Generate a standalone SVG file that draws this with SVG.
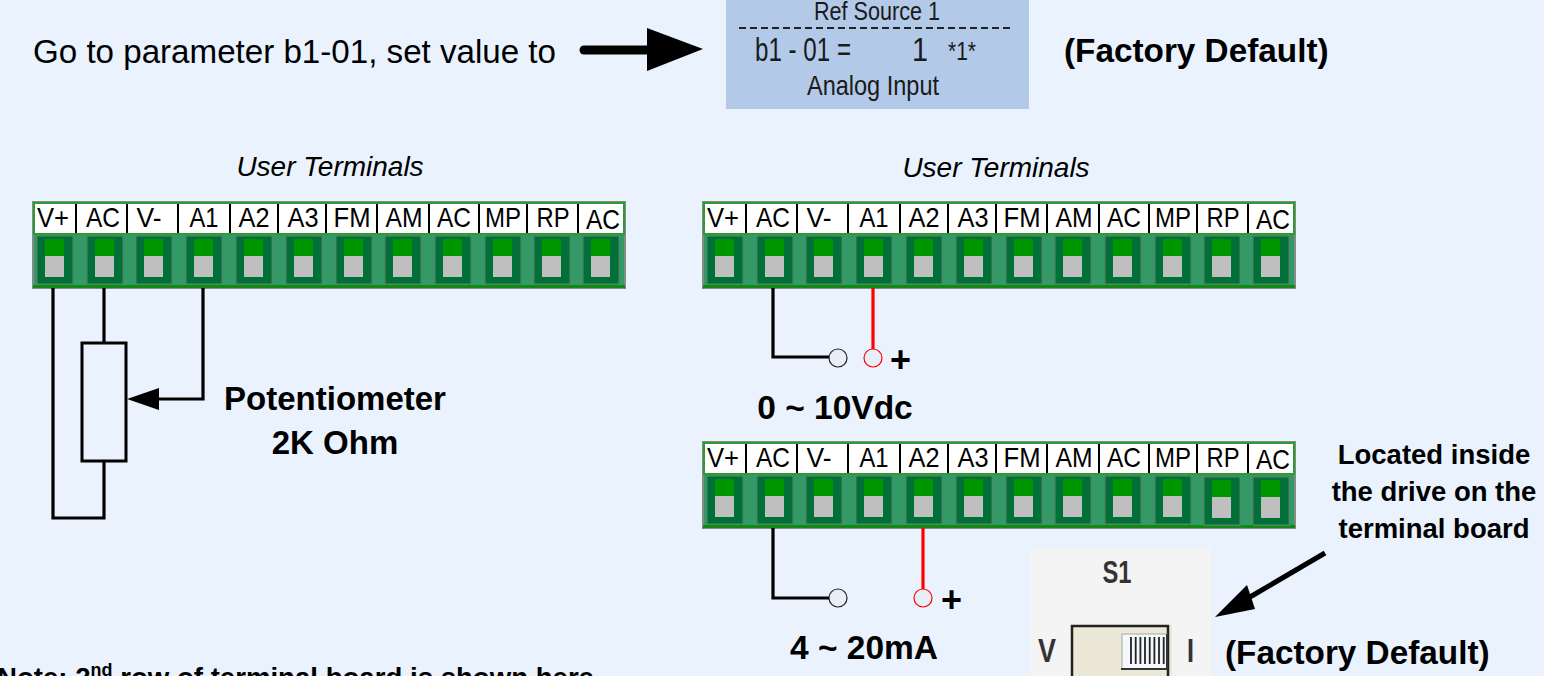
<svg xmlns="http://www.w3.org/2000/svg" width="1544" height="676" viewBox="0 0 1544 676">
<style>
text{font-family:"Liberation Sans",Arial,sans-serif;fill:#000}
.b{font-weight:bold}
.i{font-style:italic;font-size:28px}
.l{font-size:27.5px;text-anchor:middle}
.c{text-anchor:middle}
.w{fill:none;stroke:#000;stroke-width:3.2}
.r{fill:none;stroke:#f00;stroke-width:3.2}
.sep{stroke:#000;stroke-width:2}
.lcd{fill:#1a1a1a;text-anchor:middle}
.sw{font-weight:bold;fill:#333}
</style>
<defs>
<g id="term">
<rect x="0" y="0" width="36" height="48" fill="#007038" stroke="#5f7f6a" stroke-width="1"/>
<rect x="8" y="3" width="19" height="17" fill="#009600"/>
<rect x="8" y="20" width="19" height="21" fill="#bfbfbf"/>
</g>
<g id="board">
<rect x="1" y="1" width="592" height="86" fill="#339966" stroke="#7f8f85" stroke-width="2"/>
<rect x="2" y="2" width="590" height="31" fill="#fff" stroke="#2f9a2f" stroke-width="2"/>
<rect x="1" y="84" width="592" height="3" fill="#128a12"/>
<path class="sep" d="M44 3V32M95 3V32M146 3V32M198 3V32M246 3V32M294 3V32M345 3V32M397 3V32M447 3V32M495 3V32M546 3V32"/>
<text class="l" x="21" y="26" textLength="32" lengthAdjust="spacingAndGlyphs">V+</text><text class="l" x="71" y="26" textLength="34" lengthAdjust="spacingAndGlyphs">AC</text><text class="l" x="117" y="26" textLength="25" lengthAdjust="spacingAndGlyphs">V-</text><text class="l" x="172" y="26" textLength="29" lengthAdjust="spacingAndGlyphs">A1</text><text class="l" x="222" y="26" textLength="31" lengthAdjust="spacingAndGlyphs">A2</text><text class="l" x="271" y="26" textLength="31" lengthAdjust="spacingAndGlyphs">A3</text><text class="l" x="320" y="26" textLength="37" lengthAdjust="spacingAndGlyphs">FM</text><text class="l" x="372" y="26" textLength="37" lengthAdjust="spacingAndGlyphs">AM</text><text class="l" x="422" y="26" textLength="34" lengthAdjust="spacingAndGlyphs">AC</text><text class="l" x="471" y="26" textLength="36" lengthAdjust="spacingAndGlyphs">MP</text><text class="l" x="521" y="26" textLength="33" lengthAdjust="spacingAndGlyphs">RP</text><text class="l" x="571" y="28" textLength="34" lengthAdjust="spacingAndGlyphs">AC</text>
<use href="#term" x="5" y="35"/><use href="#term" x="55" y="35"/><use href="#term" x="104" y="35"/><use href="#term" x="154" y="35"/><use href="#term" x="204" y="35"/><use href="#term" x="254" y="35"/><use href="#term" x="304" y="35"/><use href="#term" x="353" y="35"/><use href="#term" x="403" y="35"/><use href="#term" x="453" y="35"/><use href="#term" x="502" y="35"/><use href="#term" x="551" y="35"/>
</g>
</defs>
<rect width="1544" height="676" fill="#eaf2fe"/>

<g id="instruction">
<text x="33" y="63" font-size="34" textLength="523" lengthAdjust="spacingAndGlyphs">Go to parameter b1-01, set value to</text>
</g>
<g id="lcd">
<rect x="726" y="0" width="303" height="109" fill="#b3c9e8"/>
<path d="M739 28H1012" stroke="#222" stroke-width="2" stroke-dasharray="7 4" fill="none"/>
<text class="lcd" x="877" y="20" font-size="25" textLength="126" lengthAdjust="spacingAndGlyphs">Ref Source 1</text>
<text x="755" y="61" font-size="33" style="fill:#1a1a1a" textLength="96" lengthAdjust="spacingAndGlyphs">b1 - 01 =</text>
<text class="lcd" x="920" y="61" font-size="33" textLength="16" lengthAdjust="spacingAndGlyphs">1</text>
<text class="lcd" x="962" y="60" font-size="25" textLength="28" lengthAdjust="spacingAndGlyphs">*1*</text>
<text class="lcd" x="873" y="95" font-size="28" textLength="132" lengthAdjust="spacingAndGlyphs">Analog Input</text>
</g>
<g id="factory-default-1"><text class="b" x="1064" y="62" font-size="33.3">(Factory Default)</text></g>

<g id="board-left">
<text class="i c" x="330" y="176">User Terminals</text>
<use href="#board" x="32" y="201"/>
</g>
<g id="board-top">
<text class="i c" x="996" y="177">User Terminals</text>
<use href="#board" x="702" y="201"/>
</g>
<g id="board-bottom">
<use href="#board" x="702" y="441"/>
<rect x="1204" y="476" width="37" height="50" fill="#339966"/><use href="#term" x="1204" y="477"/>
<rect x="1253" y="476" width="37" height="50" fill="#339966"/><use href="#term" x="1253" y="477"/>
</g>
<g id="potentiometer">
<rect x="82" y="343" width="44" height="118" fill="none" stroke="#000" stroke-width="3"/>
<text class="b c" x="335" y="410" font-size="33">Potentiometer</text>
<text class="b c" x="335" y="454" font-size="33">2K Ohm</text>
</g>
<g id="source-voltage">
<circle cx="838" cy="358" r="9" fill="#e8eef8" stroke="#222" stroke-width="1.2"/>
<circle cx="873" cy="358" r="9" fill="#e8eef8" stroke="#f00" stroke-width="1.2"/>
<text class="b" x="890" y="372" font-size="36">+</text>
<text class="b c" x="835" y="419" font-size="33.5">0 ~ 10Vdc</text>
</g>
<g id="source-current">
<circle cx="838" cy="598" r="9" fill="#e8eef8" stroke="#222" stroke-width="1.2"/>
<circle cx="923" cy="598" r="9" fill="#e8eef8" stroke="#f00" stroke-width="1.2"/>
<text class="b" x="941" y="612" font-size="36">+</text>
<text class="b c" x="864" y="659" font-size="33.5">4 ~ 20mA</text>
</g>
<g id="s1-switch">
<rect x="1030" y="548" width="181" height="128" fill="#f4f4f4"/>
<text class="sw c" x="1117" y="583" font-size="32" textLength="29" lengthAdjust="spacingAndGlyphs">S1</text>
<text class="sw" x="1038" y="662" font-size="33" textLength="18" lengthAdjust="spacingAndGlyphs">V</text>
<text class="sw" x="1187" y="662" font-size="33" textLength="7" lengthAdjust="spacingAndGlyphs">I</text>
<rect x="1072" y="625" width="100" height="51" fill="#ebe8d8"/>
<path d="M1072 676V626H1168V676" fill="none" stroke="#222" stroke-width="2.5"/>
<rect x="1122" y="634" width="45" height="35" fill="#f4f8fc" stroke="#a9a897"/>
<path d="M1131 637V664M1135.700 637V664M1140.400 637V664M1145 637V664M1149.700 637V664M1154.400 637V664M1159 637V664M1163.700 637V664" stroke="#222" stroke-width="1.8"/>
<path d="M1121 669H1167V634" fill="none" stroke="#333" stroke-width="2"/>
</g>
<g id="located-note">
<text class="b c" x="1434" y="464" font-size="27.500">Located inside</text>
<text class="b c" x="1434" y="501" font-size="27.500">the drive on the</text>
<text class="b c" x="1434" y="538" font-size="27.500">terminal board</text>
</g>
<g id="factory-default-2"><text class="b" x="1225" y="664" font-size="33.300">(Factory Default)</text></g>
<g id="note">
<text class="b" x="-3" y="687" font-size="27.600">Note: 2<tspan font-size="18" dy="-11">nd</tspan><tspan dy="11"> row of terminal board is shown here</tspan></text>
</g>

<g id="connectors">
<path class="w" d="M53 288V518H104V461M104 288V343"/>
<path class="w" d="M203 288V399H150"/>
<polygon points="127,399 159,388 159,410" fill="#000"/>
<path class="w" d="M773 288V357H829"/>
<path class="r" d="M873 288V349"/>
<path class="w" d="M773 528V598H829"/>
<path class="r" d="M923 528V589"/>
<path d="M584 50H650" stroke="#000" stroke-width="9" stroke-linecap="round" fill="none"/>
<polygon points="703,49 647,28 647,71" fill="#000"/>
<path d="M1325 553L1250 597" stroke="#000" stroke-width="5" fill="none"/>
<polygon points="1215,617 1247,585 1255,609" fill="#000"/>
</g>
</svg>
